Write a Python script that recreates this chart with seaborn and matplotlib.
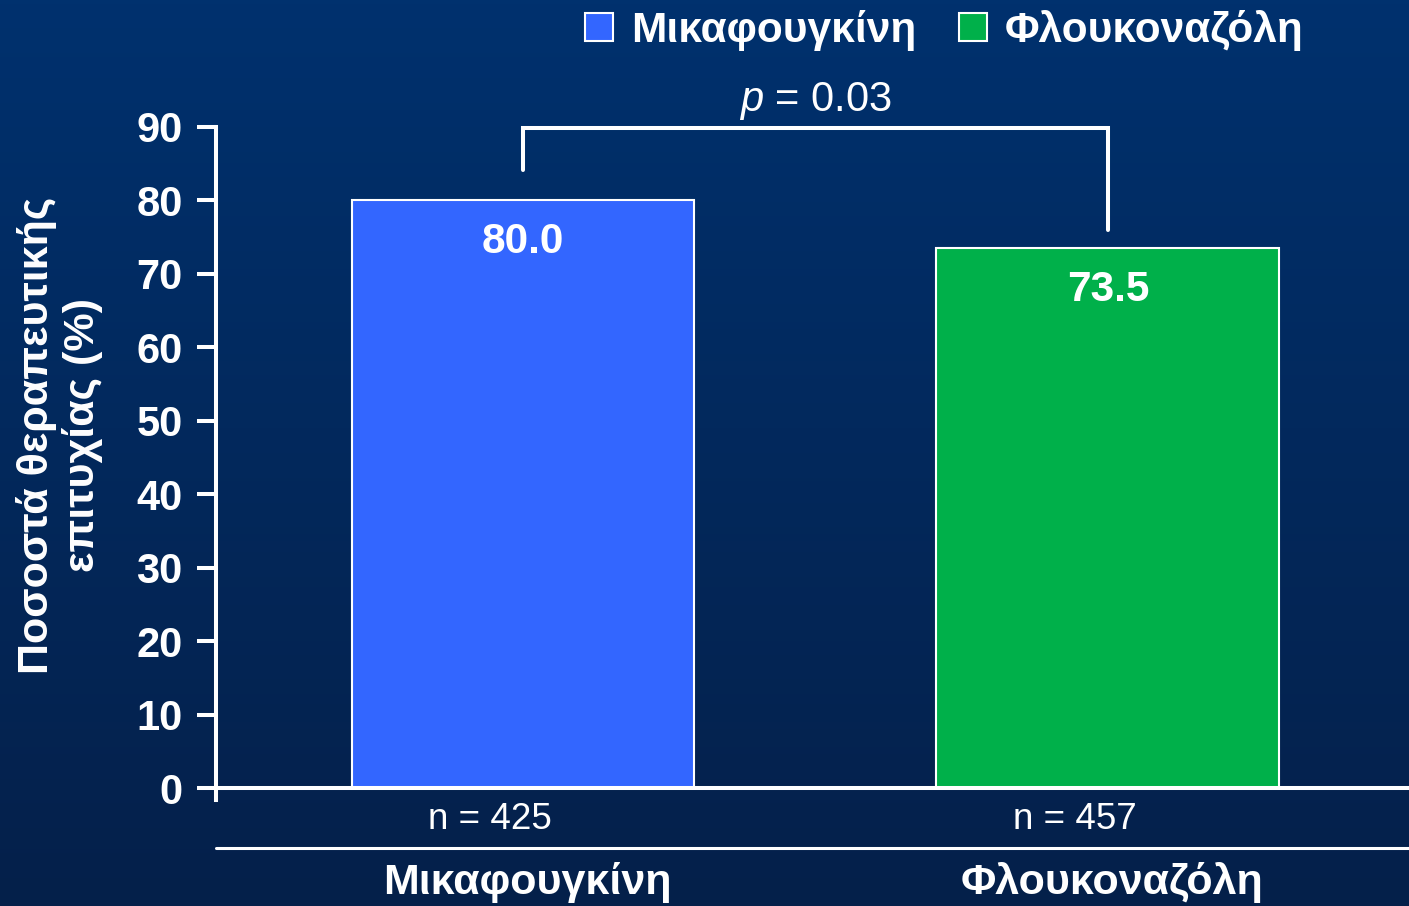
import numpy as np
import pandas as pd
import matplotlib
matplotlib.use('Agg')
import matplotlib.pyplot as plt
from matplotlib.patches import Patch
import seaborn as sns

# data
drugs = ['Μικαφουγκίνη', 'Φλουκοναζόλη']
success_rate = [80.0, 73.5]
n_patients = [425, 457]
bar_colors = ['#3366ff', '#00b04a']
p_value = '0.03'
y_ticks = [0, 10, 20, 30, 40, 50, 60, 70, 80, 90]

sns.set_style('white')
plt.rcParams['font.family'] = ['Liberation Sans', 'DejaVu Sans']
plt.rcParams['mathtext.fontset'] = 'custom'
plt.rcParams['mathtext.it'] = 'Liberation Sans:italic'
plt.rcParams['mathtext.rm'] = 'Liberation Sans'

W, H = 1409, 906
fig = plt.figure(figsize=(W / 100, H / 100), dpi=100)

# dark blue gradient background
bg = fig.add_axes([0, 0, 1, 1])
grad = np.linspace(0, 1, 256).reshape(-1, 1)
cmap = matplotlib.colors.LinearSegmentedColormap.from_list('bg', ['#00316e', '#05204a'])
bg.imshow(grad, aspect='auto', cmap=cmap, extent=[0, 1, 0, 1], origin='upper')
bg.set_axis_off()

ax = fig.add_axes([216 / W, (H - 788) / H, (W - 216) / W, (788 - 127) / H])
ax.patch.set_alpha(0)

df = pd.DataFrame({'drug': drugs, 'rate': success_rate})
sns.barplot(data=df, x='drug', y='rate', hue='drug', palette=bar_colors,
            width=0.586, edgecolor='white', linewidth=1.5, legend=False, ax=ax,
            saturation=1)

ax.set_xlim(-0.525, 1.515)
ax.set_ylim(0, 90)
ax.set_yticks(y_ticks)
ax.set_yticklabels([str(t) for t in y_ticks], fontsize=30, fontweight='bold', color='white')
ax.tick_params(axis='y', direction='out', length=14, width=2.9, color='white', pad=10, left=True)
ax.set_xticks([])
ax.set_xlabel('')
ax.set_ylabel('Ποσοστά θεραπευτικής\nεπιτυχίας (%)', fontsize=31, fontweight='bold',
              color='white', linespacing=1.15, va='center')
ax.yaxis.set_label_coords(-0.131, 0.534)

for s in ['top', 'right']:
    ax.spines[s].set_visible(False)
ax.spines['left'].set_color('white')
ax.spines['left'].set_linewidth(2.9)
ax.spines['left'].set_bounds(-1.7, 90)
ax.spines['bottom'].set_color('white')
ax.spines['bottom'].set_linewidth(2.9)

# values inside the bars
for i, v in enumerate(success_rate):
    ax.annotate(f'{v:.1f}', (i, v), xytext=(0, -30), textcoords='offset points',
                ha='center', va='center', fontsize=30.5, fontweight='bold', color='white')

# significance bracket
ax.plot([0, 0, 1, 1], [84.2, 89.9, 89.9, 76.0], color='white', lw=2.9,
        clip_on=False, solid_joinstyle='miter')
ax.text(0.5, 93.5, f'$p$ = {p_value}', ha='center', va='center', fontsize=30, color='white')

# n and category labels under the axis
xt = ax.get_xaxis_transform()
for i, (d, n) in enumerate(zip(drugs, n_patients)):
    ax.text(i - 0.056, -0.047, f'n = {n}', transform=xt, ha='center', va='center',
            fontsize=26.5, color='white')
    ax.text(i + 0.007, -0.143, d, transform=xt, ha='center', va='center',
            fontsize=31, fontweight='bold', color='white')
ax.plot([-0.525, 1.515], [-0.091, -0.091], transform=xt, color='white', lw=2.2, clip_on=False)

handles = [Patch(facecolor=c, edgecolor='white', linewidth=1.5) for c in bar_colors]
fig.legend(handles, drugs, loc='upper left', bbox_to_anchor=(585 / W, 1 - 10 / H),
           ncol=2, frameon=False, prop={'size': 30.5, 'weight': 'bold'},
           labelcolor='white', handlelength=0.66, handleheight=0.66,
           handletextpad=0.42, columnspacing=1.02, borderpad=0, borderaxespad=0)

fig.savefig('out.png', dpi=100)
